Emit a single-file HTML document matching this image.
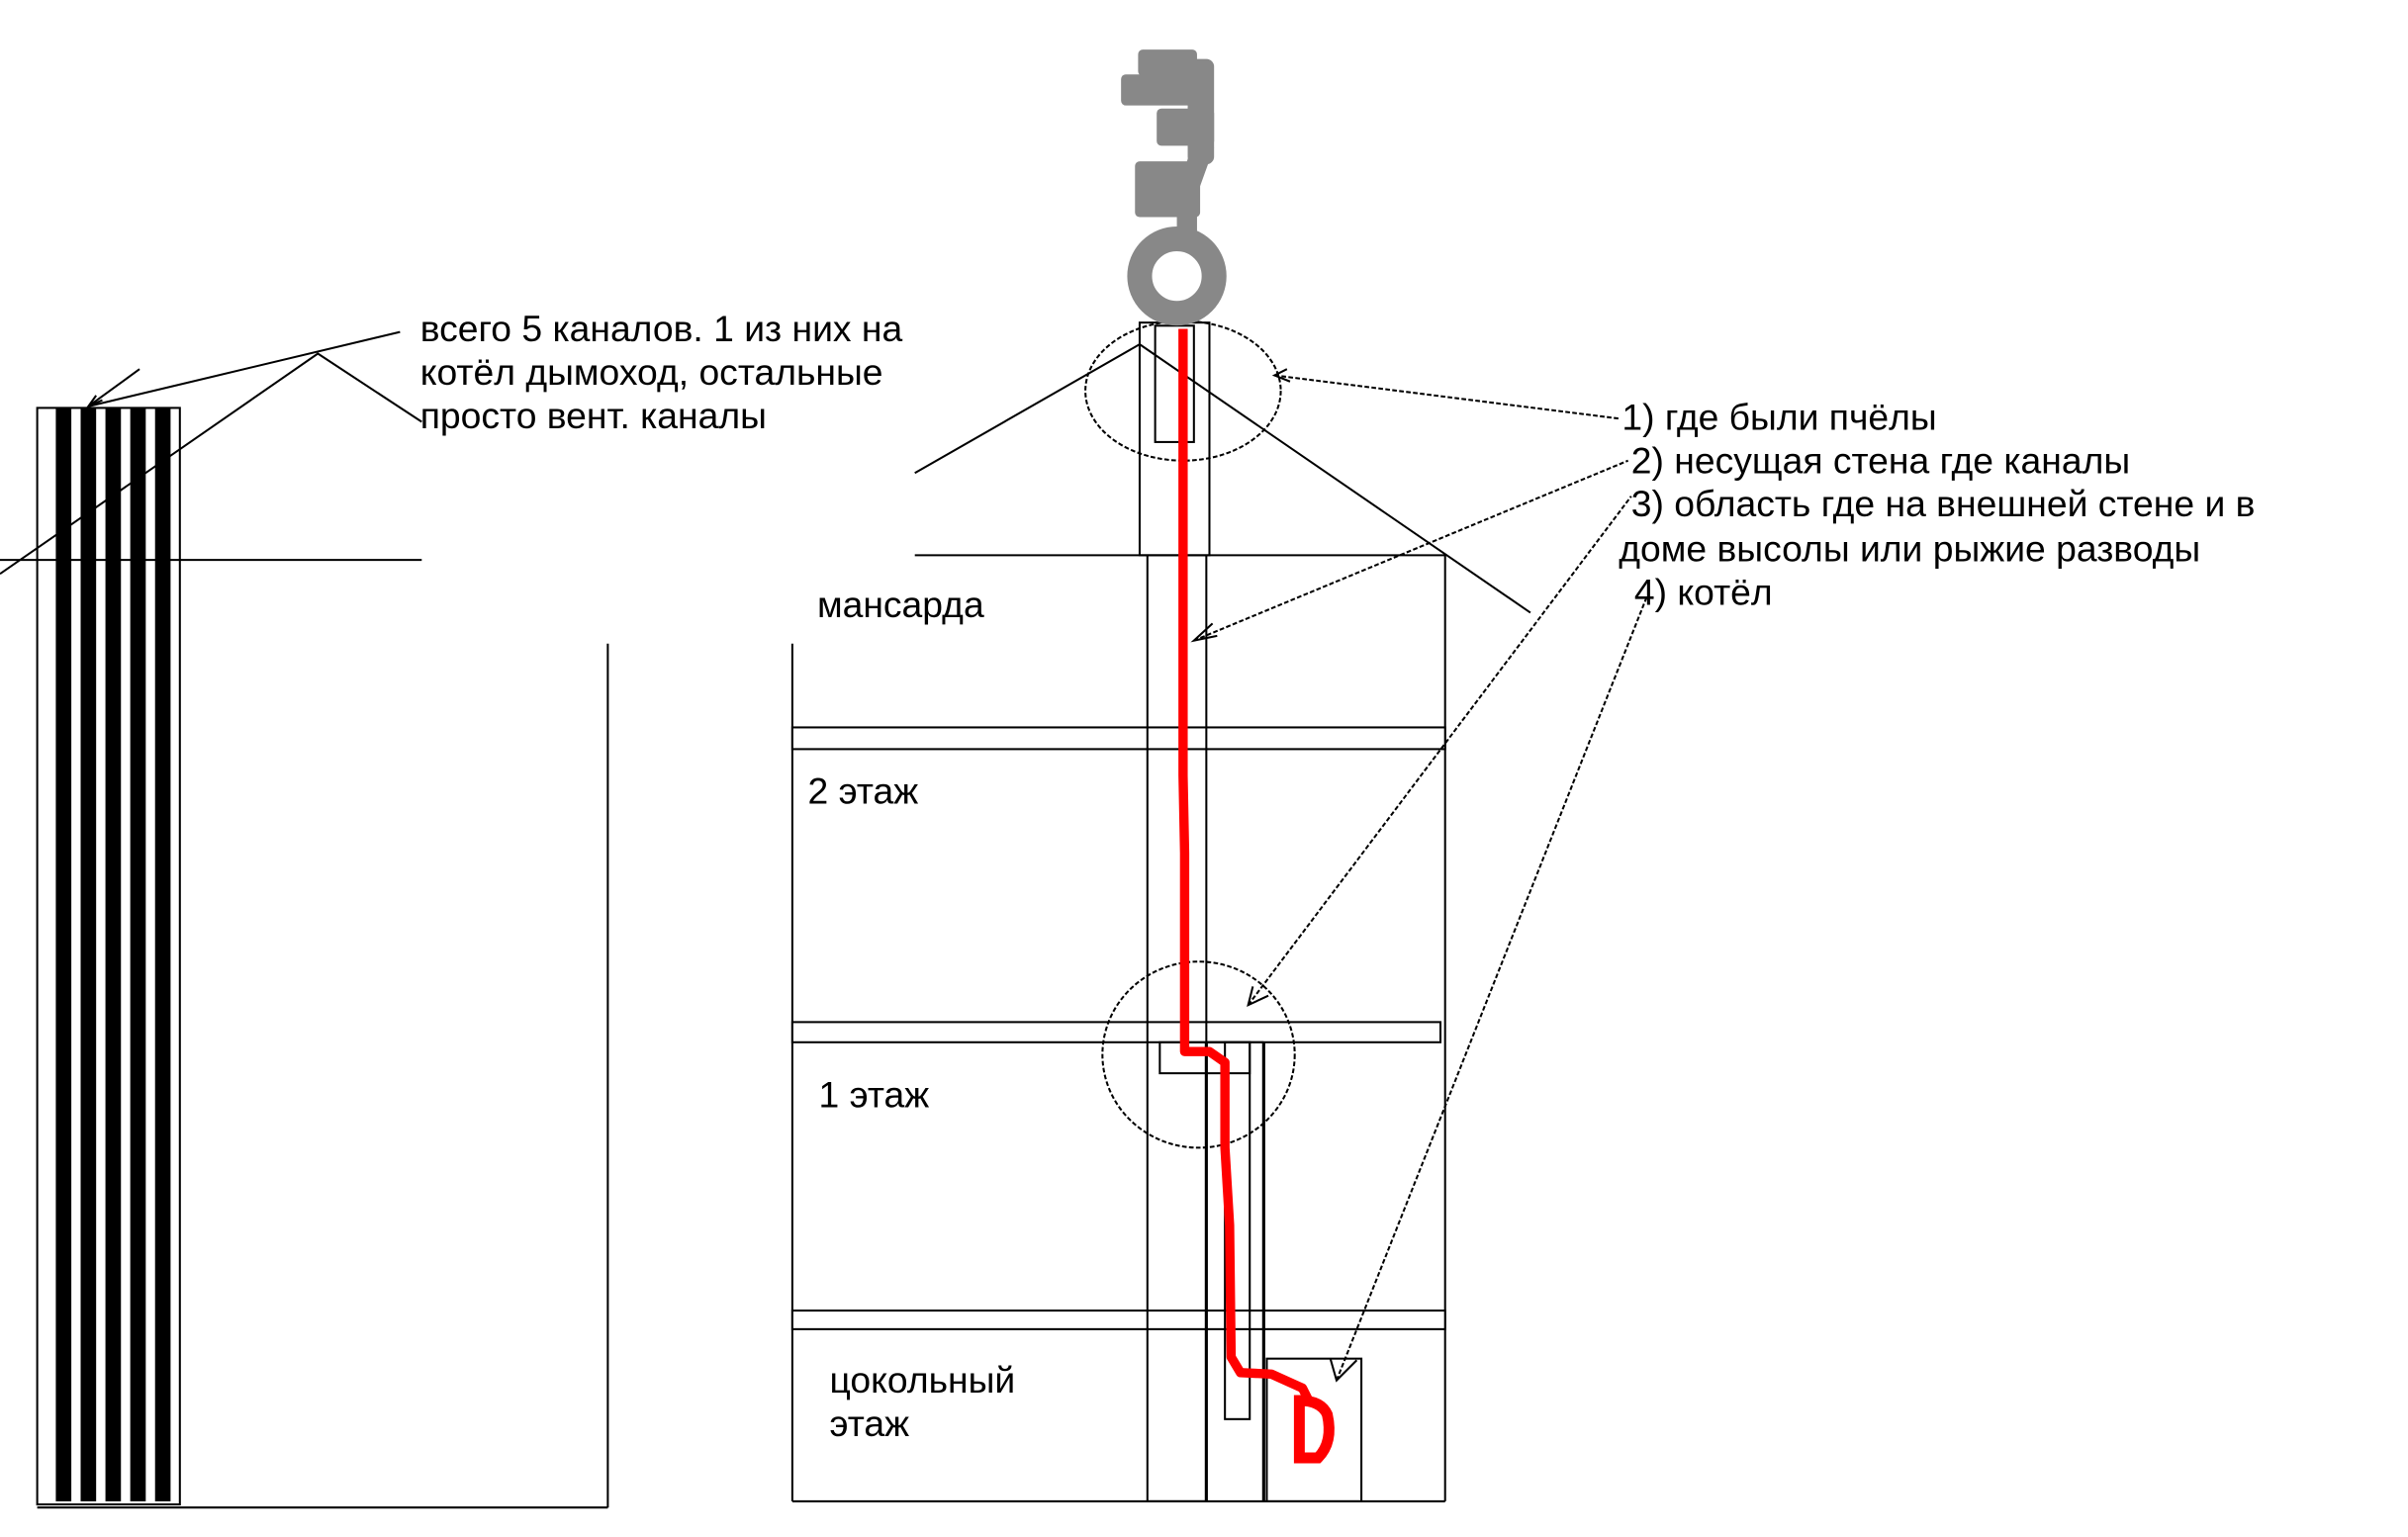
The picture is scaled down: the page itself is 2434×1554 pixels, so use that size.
<!DOCTYPE html>
<html><head><meta charset="utf-8"><style>
html,body{margin:0;padding:0;background:#fff}
svg{display:block}
text{font-family:"Liberation Sans",sans-serif;font-size:23.8px;fill:#000}
</style></head><body>
<svg width="2434" height="1554" viewBox="0 0 1553 991" preserveAspectRatio="none" xmlns="http://www.w3.org/2000/svg">
<g fill="none" stroke="#000" stroke-width="1.3">
<rect x="24" y="263" width="92" height="707"/>
<line x1="0" y1="361" x2="272" y2="361"/>
<line x1="392" y1="415" x2="392" y2="972"/>
<line x1="24" y1="972" x2="392" y2="972"/>
<polyline points="0,370 205,228 272,272"/>
<line x1="57" y1="262" x2="258" y2="214"/>
<polyline points="62,255 57,262 66,258"/>
<line x1="57" y1="262" x2="90" y2="238"/>
</g>
<g fill="#000">
<rect x="36" y="263" width="10" height="705"/>
<rect x="52" y="263" width="10" height="705"/>
<rect x="68" y="263" width="10" height="705"/>
<rect x="84" y="263" width="10" height="705"/>
<rect x="100" y="263" width="10" height="705"/>
</g>
<text x="271" y="220">всего 5 каналов. 1 из них на</text>
<text x="271" y="248">котёл дымоход, остальные</text>
<text x="271" y="276">просто вент. каналы</text>

<g fill="none" stroke="#000" stroke-width="1.3">
<line x1="590" y1="358" x2="932" y2="358"/>
<polyline points="590,305 735,222 987,395"/>
<line x1="511" y1="415" x2="511" y2="968"/>
<line x1="932" y1="358" x2="932" y2="968"/>
<line x1="511" y1="968" x2="932" y2="968"/>
<rect x="511" y="469" width="421" height="14" fill="#fff"/>
<rect x="511" y="659" width="418" height="13" fill="#fff"/>
<rect x="511" y="845" width="421" height="12" fill="#fff"/>
<rect x="735" y="208" width="45" height="150"/>
<rect x="745" y="210" width="25" height="75"/>
<line x1="740" y1="358" x2="740" y2="968"/>
<line x1="778" y1="358" x2="778" y2="968"/>
<line x1="740" y1="968" x2="778" y2="968"/>
<rect x="748" y="672" width="58" height="20"/>
<line x1="778" y1="672" x2="778" y2="968" stroke-width="2"/>
<line x1="815" y1="672" x2="815" y2="968" stroke-width="2"/>
<line x1="778" y1="672" x2="815" y2="672"/>
<rect x="790" y="672" width="16" height="243"/>
<rect x="817" y="876" width="61" height="92"/>
<ellipse cx="763" cy="252" rx="63" ry="45" stroke-dasharray="3,1.5"/>
<ellipse cx="773" cy="680" rx="62" ry="60" stroke-dasharray="3,1.5"/>
<g stroke-dasharray="3,1.5">
<line x1="822" y1="242" x2="1045" y2="270"/>
<line x1="770" y1="413" x2="1050" y2="297"/>
<line x1="805" y1="648" x2="1052" y2="320"/>
<line x1="862" y1="890" x2="1062" y2="385"/>
</g>
<polyline points="830,238 822,242 832,246"/>
<polyline points="782,402 770,413 785,410"/>
<polyline points="808,636 805,648 818,642"/>
<polyline points="858,876 862,890 875,877"/>
</g>
<polyline fill="none" stroke="#f00" stroke-width="6" stroke-linejoin="round" points="763,212 763,500 764,550 764,678 780,678 790,685 790,740 793,790 794,875 800,885 820,886 840,895 845,905"/>
<path d="M838,903 L838,940 L850,940 Q860,930 856,912 Q852,903 838,903 Z" fill="none" stroke="#f00" stroke-width="7"/>
<g fill="#888">
<rect x="734" y="32" width="38" height="17" rx="3"/>
<rect x="723" y="48" width="58" height="20" rx="3"/>
<rect x="766" y="38" width="17" height="68" rx="5"/>
<rect x="746" y="70" width="37" height="24" rx="3"/>
<rect x="732" y="104" width="42" height="36" rx="3"/>
<polygon points="770,90 783,95 774,120 762,115"/>
<rect x="759" y="136" width="13" height="26"/>
<circle cx="759" cy="178" r="24" fill="none" stroke="#888" stroke-width="16"/>
</g>

<text x="527" y="398">мансарда</text>
<text x="521" y="518">2 этаж</text>
<text x="528" y="714">1 этаж</text>
<text x="535" y="898">цокольный</text>
<text x="535" y="926">этаж</text>
<text x="1046" y="277">1) где были пчёлы</text>
<text x="1052" y="305">2) несущая стена где каналы</text>
<text x="1052" y="333">3) область где на внешней стене и в</text>
<text x="1044" y="362">доме высолы или рыжие разводы</text>
<text x="1054" y="390">4) котёл</text>
</svg>
</body></html>
